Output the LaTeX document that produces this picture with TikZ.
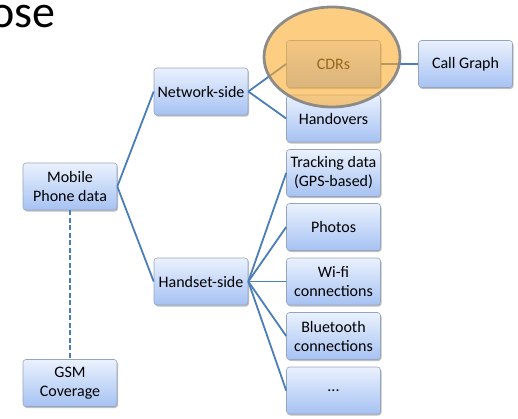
\documentclass[tikz,border=0pt]{standalone}
\usepackage{fontspec}
\setmainfont{Carlito}
\usetikzlibrary{shadows,shapes.geometric}
\definecolor{linkblue}{RGB}{74,126,187}
\definecolor{boxtop}{RGB}{234,241,253}
\definecolor{boxbot}{RGB}{166,194,243}
\definecolor{boxrim}{RGB}{150,165,190}
\definecolor{hilite}{RGB}{252,172,47}
\definecolor{rimgray}{RGB}{135,135,135}
\begin{document}
\begin{tikzpicture}[x=1pt,y=-1pt,
  box/.style={rectangle, rounded corners=3pt, draw=boxrim, line width=0.6pt,
    top color=boxtop, bottom color=boxbot,
    drop shadow={shadow xshift=1pt, shadow yshift=-1.5pt, opacity=0.25, fill=black},
    minimum width=94pt, minimum height=47pt, inner sep=1pt,
    align=center, font=\fontsize{16}{19}\selectfont, text=black},
  link/.style={draw=linkblue, line width=1.8pt},
  dlink/.style={link, dash pattern=on 5pt off 2.5pt}]
  \useasboundingbox (0,0) rectangle (518,418);
  \clip (0,0) rectangle (518,418);

  % heading fragment
  \node[anchor=base east, inner sep=0pt, font=\fontsize{46}{50}\selectfont] (title) at (56,27) {ose};

  % boxes
  \node[box] (mpd) at (70,186.5) {Mobile\\Phone data};
  \node[box] (gsm) at (70,383) {GSM\\Coverage};
  \node[box] (net) at (201,91.5) {Network-side};
  \node[box] (hand) at (201,281.5) {Handset-side};
  \node[box] (cdr) at (333.5,64) {CDRs};
  \node[box] (hov) at (333.5,118.5) {Handovers};
  \node[box] (gps) at (333.5,173) {Tracking data\\(GPS-based)};
  \node[box] (pho) at (333.5,227) {Photos};
  \node[box] (wifi) at (333.5,281.5) {Wi-fi\\connections};
  \node[box] (bt) at (333.5,336) {Bluetooth\\connections};
  \node[box] (more) at (333.5,390.5) {...};
  \node[box] (cg) at (465.5,64) {Call Graph};

  % connectors
  \draw[link] (mpd.east) -- (net.west);
  \draw[link] (mpd.east) -- (hand.west);
  \draw[dlink] (mpd.south) -- (gsm.north);
  \draw[link] (net.east) -- (cdr.west);
  \draw[link] (net.east) -- (hov.west);
  \foreach \t in {gps,pho,wifi,bt,more}
    \draw[link] (hand.east) -- (\t.west);
  \draw[link] (cdr.east) -- (cg.west);

  % translucent highlight around the CDRs box
  \node[ellipse, minimum width=136pt, minimum height=100pt, fill=hilite, fill opacity=0.6,
        draw=rimgray, draw opacity=0.95, line width=2.8pt] (hl) at (332,57) {};
\end{tikzpicture}
\end{document}
